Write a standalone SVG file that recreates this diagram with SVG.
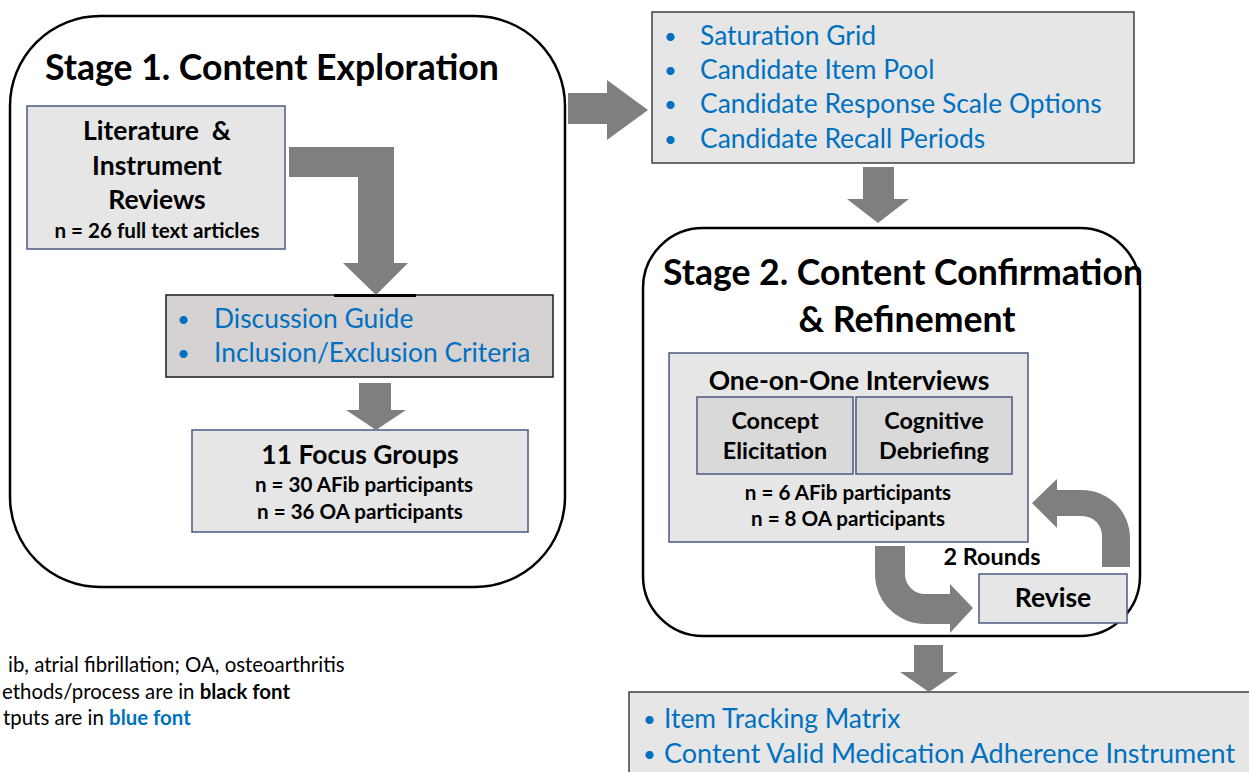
<svg xmlns="http://www.w3.org/2000/svg" width="1249" height="772" viewBox="0 0 1249 772">
  <style>
    text { font-family: Lato, "Noto Sans", "Liberation Sans", sans-serif; }
    .stage { fill: #ffffff; stroke: #000000; stroke-width: 2.5; }
    .box { fill: #e6e6e6; stroke: #4a5a80; stroke-width: 1.5; }
    .outbox { fill: #e6e6e6; stroke: #404040; stroke-width: 1.5; }
    .subbox { fill: #d9d9d9; stroke: #4a5a80; stroke-width: 1.5; }
    .guide { fill: #d6d2d2; stroke: #1a1a1a; stroke-width: 1.5; }
    .arrow { fill: #7f7f7f; }
    .title { font-size: 35.6px; font-weight: bold; fill: #000; }
    .head { font-size: 26.5px; font-weight: bold; fill: #000; text-anchor: middle; }
    .sub { font-size: 23.4px; font-weight: bold; fill: #000; text-anchor: middle; }
    .small { font-size: 20.6px; font-weight: bold; fill: #000; text-anchor: middle; }
    .out { font-size: 26.4px; fill: #0070c0; }
    .dot { font-size: 22px; fill: #0070c0; }
    .note { font-size: 20.4px; fill: #000; }
  </style>

  <!-- Stage containers -->
  <g id="stage1">
    <rect class="stage" x="10" y="16" width="555" height="571" rx="90" ry="90"/>
    <text class="title" x="45" y="80">Stage 1. Content Exploration</text>
  </g>
  <g id="stage2">
    <rect class="stage" x="643" y="228" width="497" height="408" rx="60" ry="60"/>
    <text class="title" x="903" y="285" text-anchor="middle">Stage 2. Content Confirmation</text>
    <text class="title" x="907" y="332" text-anchor="middle">&amp; Refinement</text>
  </g>

  <!-- Stage 1 nodes -->
  <g id="literature">
    <rect class="box" x="27" y="106" width="258" height="143"/>
    <text class="head" x="157" y="140" xml:space="preserve">Literature  &amp;</text>
    <text class="head" x="157" y="175">Instrument</text>
    <text class="head" x="157" y="209">Reviews</text>
    <text class="small" x="157" y="238">n = 26 full text articles</text>
  </g>
  <g id="discussion">
    <rect class="guide" x="166" y="295" width="387" height="82"/>
    <line x1="334" y1="295.5" x2="416" y2="295.5" stroke="#000" stroke-width="3"/>
    <text class="dot" x="177" y="327">•</text>
    <text class="out" x="214" y="328">Discussion Guide</text>
    <text class="dot" x="177" y="361">•</text>
    <text class="out" x="214" y="362">Inclusion/Exclusion Criteria</text>
  </g>
  <g id="focus">
    <rect class="box" x="192" y="430" width="336" height="102"/>
    <text class="head" x="360" y="464">11 Focus Groups</text>
    <text class="small" x="364" y="492">n = 30 AFib participants</text>
    <text class="small" x="360" y="519">n = 36 OA participants</text>
  </g>

  <!-- Stage 1 outputs -->
  <g id="outputs1">
    <rect class="outbox" x="652" y="12" width="482" height="151"/>
    <text class="dot" x="664" y="44">•</text>
    <text class="out" x="700" y="45">Saturation Grid</text>
    <text class="dot" x="664" y="78">•</text>
    <text class="out" x="700" y="79">Candidate Item Pool</text>
    <text class="dot" x="664" y="112">•</text>
    <text class="out" x="700" y="113">Candidate Response Scale Options</text>
    <text class="dot" x="664" y="147">•</text>
    <text class="out" x="700" y="148">Candidate Recall Periods</text>
  </g>

  <!-- Stage 2 nodes -->
  <g id="interviews">
    <rect class="box" x="669" y="353" width="359" height="189"/>
    <text class="head" x="849" y="390">One-on-One Interviews</text>
    <text class="small" x="848" y="500">n = 6 AFib participants</text>
    <text class="small" x="848" y="526">n = 8 OA participants</text>
  </g>
  <g id="concept">
    <rect class="subbox" x="697" y="397" width="156" height="77"/>
    <text class="sub" x="775" y="429">Concept</text>
    <text class="sub" x="775" y="459">Elicitation</text>
  </g>
  <g id="cognitive">
    <rect class="subbox" x="856" y="397" width="156" height="77"/>
    <text class="sub" x="934" y="429">Cognitive</text>
    <text class="sub" x="934" y="459">Debriefing</text>
  </g>
  <g id="revise">
    <rect class="box" x="979" y="574" width="148" height="49"/>
    <text class="head" x="1053" y="607">Revise</text>
  </g>
  <g id="rounds">
    <text class="sub" x="992" y="565">2 Rounds</text>
  </g>

  <!-- Final outputs -->
  <g id="outputs2">
    <rect class="outbox" x="629" y="692" width="640" height="100"/>
    <text class="dot" x="643" y="727">•</text>
    <text class="out" x="664" y="728">Item Tracking Matrix</text>
    <text class="dot" x="643" y="762">•</text>
    <text class="out" x="664" y="763" style="font-size:27px">Content Valid Medication Adherence Instrument</text>
  </g>

  <!-- Legend -->
  <g id="legend">
    <text class="note" x="8" y="672">ib, atrial fibrillation; OA, osteoarthritis</text>
    <text class="note" x="2" y="699">ethods/process are in <tspan font-weight="bold">black font</tspan></text>
    <text class="note" x="3" y="725">tputs are in <tspan font-weight="bold" fill="#0070c0">blue font</tspan></text>
  </g>

  <!-- Block arrows -->
  <g id="connectors">
    <!-- literature to discussion guide (elbow) -->
    <polygon class="arrow" points="289,147 394,147 394,263 408,263 376,295 343,263 358,263 358,177 289,177"/>
    <!-- discussion guide to focus groups -->
    <polygon class="arrow" points="359,383 391,383 391,410 406,410 376,430 346,410 359,410"/>
    <!-- stage 1 to outputs -->
    <polygon class="arrow" points="568,93 607,93 607,80 648,110 607,140 607,124 568,124"/>
    <!-- outputs to stage 2 -->
    <polygon class="arrow" points="863,167 894,167 894,199 909,199 878,223 847,199 863,199"/>
    <!-- interviews to revise -->
    <path class="arrow" d="M875,546 L875,574 A50,50 0 0 0 925,624 L950,624 L950,633 L973,608 L950,584 L950,594 L925,594 A20,20 0 0 1 905,574 L905,546 Z"/>
    <!-- revise back to interviews -->
    <path class="arrow" d="M1057,479 L1032,503 L1057,528 L1057,516 L1082,516 A20,20 0 0 1 1102,536 L1102,567 L1130,567 L1130,538 A48,48 0 0 0 1082,490 L1057,490 Z"/>
    <!-- stage 2 to final outputs -->
    <polygon class="arrow" points="914,645 943,645 943,672 958,672 929,692 900,672 914,672"/>
  </g>
</svg>
